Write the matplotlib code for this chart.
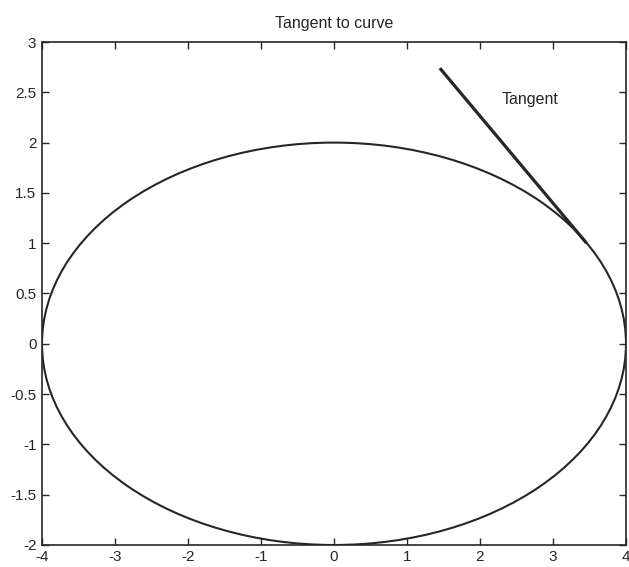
import numpy as np
import matplotlib
matplotlib.use('Agg')
import matplotlib.pyplot as plt
from matplotlib.patches import Ellipse

# curve: ellipse x^2/16 + y^2/4 = 1
ellipse_center = (0.0, 0.0)
ellipse_semi_axes = (4.0, 2.0)

# tangent segment
tangent_x = [3.46, 1.45]
tangent_y = [1.00, 2.74]
tangent_label = 'Tangent'
tangent_label_pos = (2.30, 2.43)

x_ticks = [-4, -3, -2, -1, 0, 1, 2, 3, 4]
y_ticks = [-2, -1.5, -1, -0.5, 0, 0.5, 1, 1.5, 2, 2.5, 3]

plt.rcParams['font.family'] = ['Liberation Sans', 'DejaVu Sans']

ink = '#262626'

f = plt.figure(figsize=(6.29, 5.67), dpi=100)
ax = f.add_axes([42 / 629, 22 / 567, 584 / 629, 503 / 567])

ax.add_patch(Ellipse(ellipse_center, 2 * ellipse_semi_axes[0], 2 * ellipse_semi_axes[1],
                     fill=False, ec=ink, lw=1.5))
ax.plot(tangent_x, tangent_y, '-', c=ink, lw=2.3, solid_capstyle='butt')
ax.text(tangent_label_pos[0], tangent_label_pos[1], tangent_label, fontsize=11.5, color=ink,
        ha='left', va='center')

ax.set_xlim(-4, 4)
ax.set_ylim(-2, 3)
ax.set_xticks(x_ticks)
ax.set_yticks(y_ticks)
ax.set_xticklabels([f'{v:g}' for v in x_ticks])
ax.set_yticklabels([f'{v:g}' for v in y_ticks])
ax.set_title('Tangent to curve', fontsize=11.5, color=ink, pad=10)

ax.tick_params(direction='in', length=5, width=1, colors=ink, labelsize=11,
               top=True, right=True)
ax.tick_params(axis='x', pad=3.5)
ax.tick_params(axis='y', pad=4)
for s in ax.spines.values():
    s.set_color(ink)
    s.set_linewidth(1.2)

f.savefig('out.png', dpi=100)
